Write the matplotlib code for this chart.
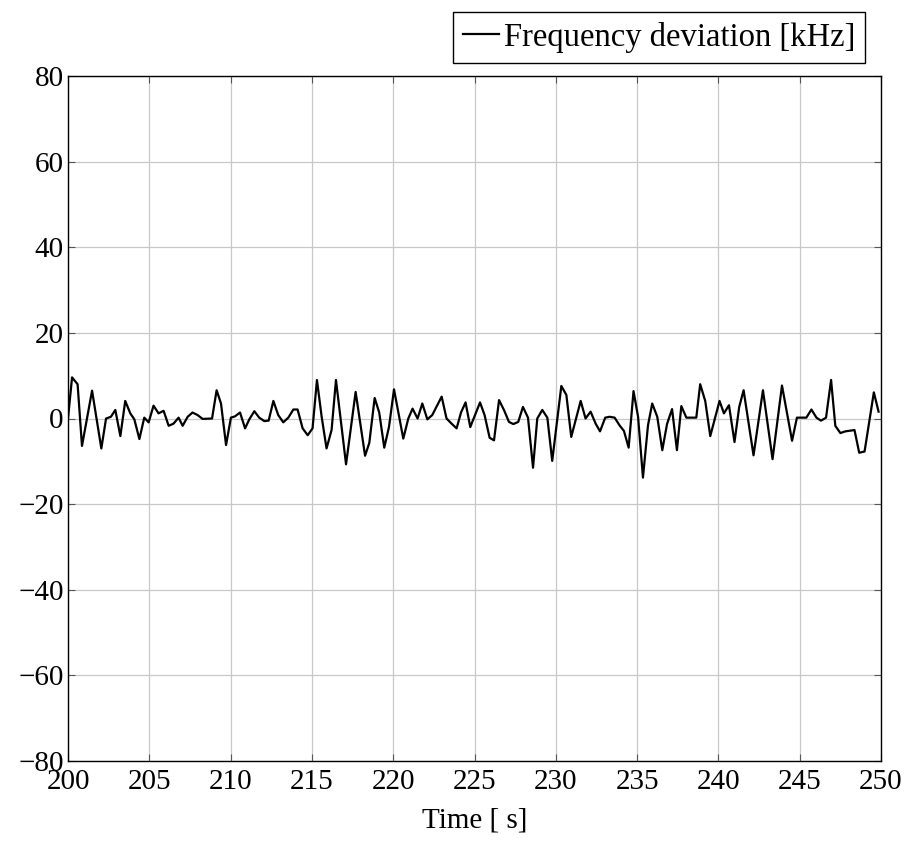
import numpy as np
import matplotlib
matplotlib.use("Agg")
from matplotlib import pyplot as plt

# time [s] and frequency deviation [kHz]
t = [200.00, 200.25, 200.59, 200.86, 201.48, 202.05, 202.34, 202.64, 202.91, 203.22,
     203.52, 203.83, 204.08, 204.39, 204.69, 204.96, 205.26, 205.57, 205.88, 206.19,
     206.49, 206.80, 207.05, 207.36, 207.66, 207.97, 208.28, 208.86, 209.14, 209.41,
     209.72, 210.02, 210.27, 210.58, 210.89, 211.15, 211.46, 211.76, 212.07, 212.34,
     212.63, 212.93, 213.24, 213.55, 213.86, 214.12, 214.43, 214.74, 215.04, 215.31,
     215.60, 215.90, 216.21, 216.48, 217.10, 217.69, 218.27, 218.53, 218.86, 219.14,
     219.45, 219.74, 220.05, 220.62, 220.93, 221.19, 221.50, 221.79, 222.10, 222.40,
     222.98, 223.28, 223.59, 223.90, 224.17, 224.45, 224.74, 225.34, 225.62, 225.93,
     226.20, 226.51, 226.81, 227.12, 227.39, 227.69, 227.98, 228.29, 228.60, 228.86,
     229.17, 229.48, 229.78, 230.34, 230.65, 230.95, 231.53, 231.83, 232.14, 232.45,
     232.72, 233.04, 233.31, 233.62, 233.92, 234.19, 234.48, 234.78, 235.06, 235.36,
     235.67, 235.93, 236.24, 236.55, 236.84, 237.15, 237.45, 237.72, 238.03, 238.64,
     238.88, 239.19, 239.50, 240.07, 240.34, 240.65, 240.99, 241.28, 241.55, 242.16,
     242.74, 243.33, 243.91, 244.53, 244.83, 245.41, 245.72, 246.03, 246.31, 246.62,
     246.93, 247.19, 247.50, 247.81, 248.37, 248.66, 248.99, 249.56, 249.85]
dev = [0.0, 9.6, 8.0, -6.4, 6.5, -7.0, 0.0, 0.4, 2.0, -4.1,
       4.1, 1.2, -0.2, -4.8, 0.2, -0.9, 3.0, 1.2, 1.8, -1.7,
       -1.2, 0.2, -1.7, 0.4, 1.4, 0.8, -0.1, 0.0, 6.6, 3.5,
       -6.2, 0.2, 0.5, 1.4, -2.3, -0.2, 1.7, 0.2, -0.6, -0.5,
       4.1, 0.8, -0.9, 0.2, 2.1, 2.1, -2.3, -3.9, -2.3, 9.0,
       0.4, -7.0, -2.7, 9.0, -10.7, 6.2, -8.7, -5.7, 4.8, 1.4,
       -6.8, -2.0, 6.8, -4.7, 0.0, 2.3, 0.0, 3.5, -0.2, 0.8,
       5.1, 0.0, -1.2, -2.3, 1.4, 3.75, -2.0, 3.75, 0.8, -4.5,
       -5.1, 4.3, 2.0, -0.8, -1.3, -0.8, 2.7, 0.2, -11.5, 0.0,
       2.0, 0.2, -9.9, 7.6, 5.5, -4.3, 4.1, 0.0, 1.6, -1.2,
       -3.0, 0.2, 0.4, 0.2, -1.6, -2.9, -6.8, 6.4, 0.4, -13.8,
       -1.6, 3.5, 0.4, -7.4, -1.3, 2.2, -7.4, 2.9, 0.2, 0.2,
       8.0, 4.1, -4.1, 4.1, 1.2, 3.1, -5.5, 2.7, 6.6, -8.6,
       6.6, -9.5, 7.7, -5.2, 0.2, 0.2, 2.1, 0.2, -0.5, 0.2,
       9.0, -1.7, -3.4, -3.0, -2.7, -8.0, -7.7, 6.1, 1.6]

x_ticks = list(range(200, 251, 5))
y_ticks = list(range(-80, 81, 20))

plt.rcParams['font.family'] = ['Liberation Serif', 'DejaVu Serif']
plt.rcParams['font.size'] = 21

fig = plt.figure(figsize=(9.07, 8.41), dpi=100)
ax = fig.add_axes([68 / 907, 1 - 761 / 841, (881 - 68) / 907, (761 - 76) / 841])

ax.plot(t, dev, color='black', lw=1.6, label='Frequency deviation [kHz]')

ax.set_xlim(200, 250)
ax.set_ylim(-80, 80)
ax.set_xticks(x_ticks)
ax.set_yticks(y_ticks)
ax.set_yticklabels([str(v).replace('-', '\u2212') for v in y_ticks])
ax.grid(True, color='#c8c8c8', lw=0.9)
ax.set_axisbelow(True)
ax.tick_params(direction='in', length=5, width=0.8, color='#555555',
               top=True, right=True, pad=3)
ax.tick_params(axis='x', pad=6)
for s in ax.spines.values():
    s.set_linewidth(1.0)
ax.set_xlabel('Time [ s]', labelpad=9)

leg = fig.legend(loc='upper right', bbox_to_anchor=(865 / 907, 1 - 12 / 841),
                 fancybox=False, edgecolor='black', framealpha=1,
                 fontsize=23.5, handlelength=1.1, handletextpad=0.15,
                 borderpad=0.3, borderaxespad=0)
leg.get_frame().set_linewidth(1.0)

fig.savefig('out.png', dpi=100)
